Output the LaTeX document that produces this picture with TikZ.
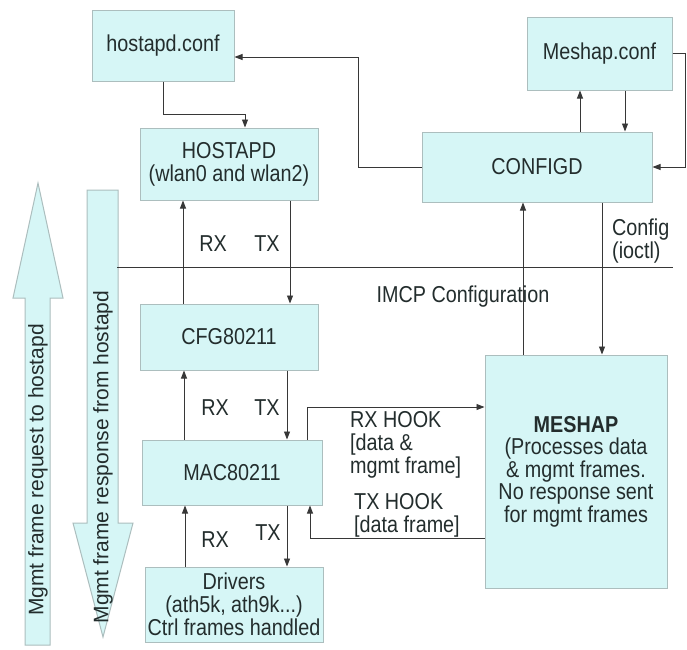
\documentclass[tikz,border=0pt]{standalone}
\usepackage{fontspec}
\setmainfont{Liberation Sans}[FakeStretch=0.86]
\newfontfamily\sidefont{Liberation Sans}
\usetikzlibrary{arrows.meta}
\definecolor{boxfill}{RGB}{214,246,246}
\definecolor{boxline}{RGB}{172,190,190}
\definecolor{wire}{RGB}{55,55,55}
\definecolor{ink}{RGB}{35,45,45}
\begin{document}
\begin{tikzpicture}[x=1pt,y=-1pt,
  box/.style={draw=boxline, fill=boxfill, line width=1pt, inner sep=0pt,
    align=center, text=ink, font=\fontsize{23}{23}\selectfont},
  arr/.style={draw=wire, line width=0.9pt, -{Triangle[length=8pt,width=6pt]}},
  wirel/.style={draw=wire, line width=0.9pt},
  lbl/.style={text=ink, font=\fontsize{23}{23}\selectfont, inner sep=0pt},
  bigarrow/.style={draw=boxline, fill=boxfill, line width=1pt, line join=miter},
  sidelbl/.style={text=ink, rotate=90, inner sep=0pt, font=\sidefont\fontsize{21}{21}\selectfont}]
\useasboundingbox (0,0) rectangle (687,649);
\fill[white] (0,0) rectangle (687,649);

% big side arrows: request (up) and response (down)
\filldraw[bigarrow] (25,645) -- (25,298) -- (13,298) -- (38,183) -- (63,298)
  -- (50,298) -- (50,645) -- cycle;
\filldraw[bigarrow] (87,190) -- (118,190) -- (118,523) -- (133,523) -- (103,637)
  -- (73,523) -- (87,523) -- cycle;
\node[sidelbl] (reqlbl) at (38,470) {Mgmt frame request to hostapd};
\node[sidelbl] (resplbl) at (103,457) {Mgmt frame response from hostapd};

% user space / kernel separator
\coordinate (sepL) at (117,267);
\coordinate (sepR) at (673,267);
\draw[wirel] (sepL) -- (sepR);

% blocks
\node[box, minimum width=142pt, minimum height=71pt] (hconf) at (163,45.5) {hostapd.conf};
\node[box, minimum width=178pt, minimum height=72pt] (hostapd) at (229,164)
  {HOSTAPD\\(wlan0 and wlan2)};
\node[box, minimum width=178pt, minimum height=66pt] (cfg) at (229,337) {CFG80211};
\node[box, minimum width=180pt, minimum height=65pt] (mac) at (232,472.5) {MAC80211};
\node[box, minimum width=178pt, minimum height=75pt] (drv) at (234,604.5)
  {Drivers\\(ath5k, ath9k...)\\Ctrl frames handled};
\node[box, minimum width=230pt, minimum height=70pt] (configd) at (537,167) {CONFIGD};
\node[box, minimum width=145pt, minimum height=73pt] (mconf) at (599.5,53.5) {Meshap.conf};
\node[box, minimum width=182pt, minimum height=233pt, font=\fontsize{23}{22.5}\selectfont]
  (meshap) at (576,471.5)
  {\textbf{MESHAP}\\(Processes data\\\& mgmt frames.\\No response sent\\for mgmt frames};

% vertical lanes
\coordinate (rxA) at (183,0);
\coordinate (txA) at (290,0);
\coordinate (rxB) at (184,0);
\coordinate (txB) at (287,0);
\coordinate (rxC) at (185,0);
\coordinate (txC) at (287,0);
\coordinate (upM) at (580,0);
\coordinate (dnM) at (625,0);
\coordinate (imcp) at (523,0);
\coordinate (ioctl) at (602,0);

% hostapd.conf -> HOSTAPD
\draw[arr] (hconf.south) |- ([xshift=16pt,yshift=13pt]hostapd.north)
  -- ([xshift=16pt]hostapd.north);

% RX / TX paths
\draw[arr] (rxA |- cfg.north) -- (rxA |- hostapd.south);
\draw[arr] (txA |- hostapd.south) -- (txA |- cfg.north);
\draw[arr] (rxB |- mac.north) -- (rxB |- cfg.south);
\draw[arr] (txB |- cfg.south) -- (txB |- mac.north);
\draw[arr] (rxC |- drv.north) -- (rxC |- mac.south);
\draw[arr] (txC |- mac.south) -- (txC |- drv.north);

\node[lbl] (rx1) at (213,244) {RX};
\node[lbl] (tx1) at (267,244) {TX};
\node[lbl] (rx2) at (215,408) {RX};
\node[lbl] (tx2) at (267,408) {TX};
\node[lbl] (rx3) at (215,540) {RX};
\node[lbl] (tx3) at (268,533) {TX};

% CONFIGD <-> configuration files
\coordinate (lp) at (358,57);
\draw[arr] (configd.west) -| (lp) -- (lp -| hconf.east);
\coordinate (rp) at (685,167);
\draw[arr] (mconf.east) -| (rp) -- (configd.east);
\draw[arr] (upM |- configd.north) -- (upM |- mconf.south);
\draw[arr] (dnM |- mconf.south) -- (dnM |- configd.north);

% CONFIGD <-> MESHAP
\draw[arr] (imcp |- meshap.north) -- (imcp |- configd.south);
\draw[arr] (ioctl |- configd.south) -- (ioctl |- meshap.north);
\node[lbl, anchor=west, align=left] (ioctllbl) at (612,241.5) {Config\\(ioctl)};
\node[lbl] (imcplbl) at (463,297) {IMCP Configuration};

% hooks between MAC80211 and MESHAP
\coordinate (hk) at (307,407);
\draw[arr] (hk |- mac.north) -- (hk) -- (hk -| meshap.west);
\coordinate (tk) at (310,538);
\draw[arr] (tk -| meshap.west) -- (tk) -- (tk |- mac.south);
\node[lbl, anchor=west, align=left] (rxhook) at (350,445) {RX HOOK\\{[}data \&\\mgmt frame]};
\node[lbl, anchor=west, align=left] (txhook) at (354,515) {TX HOOK\\{[}data frame]};
\end{tikzpicture}
\end{document}
